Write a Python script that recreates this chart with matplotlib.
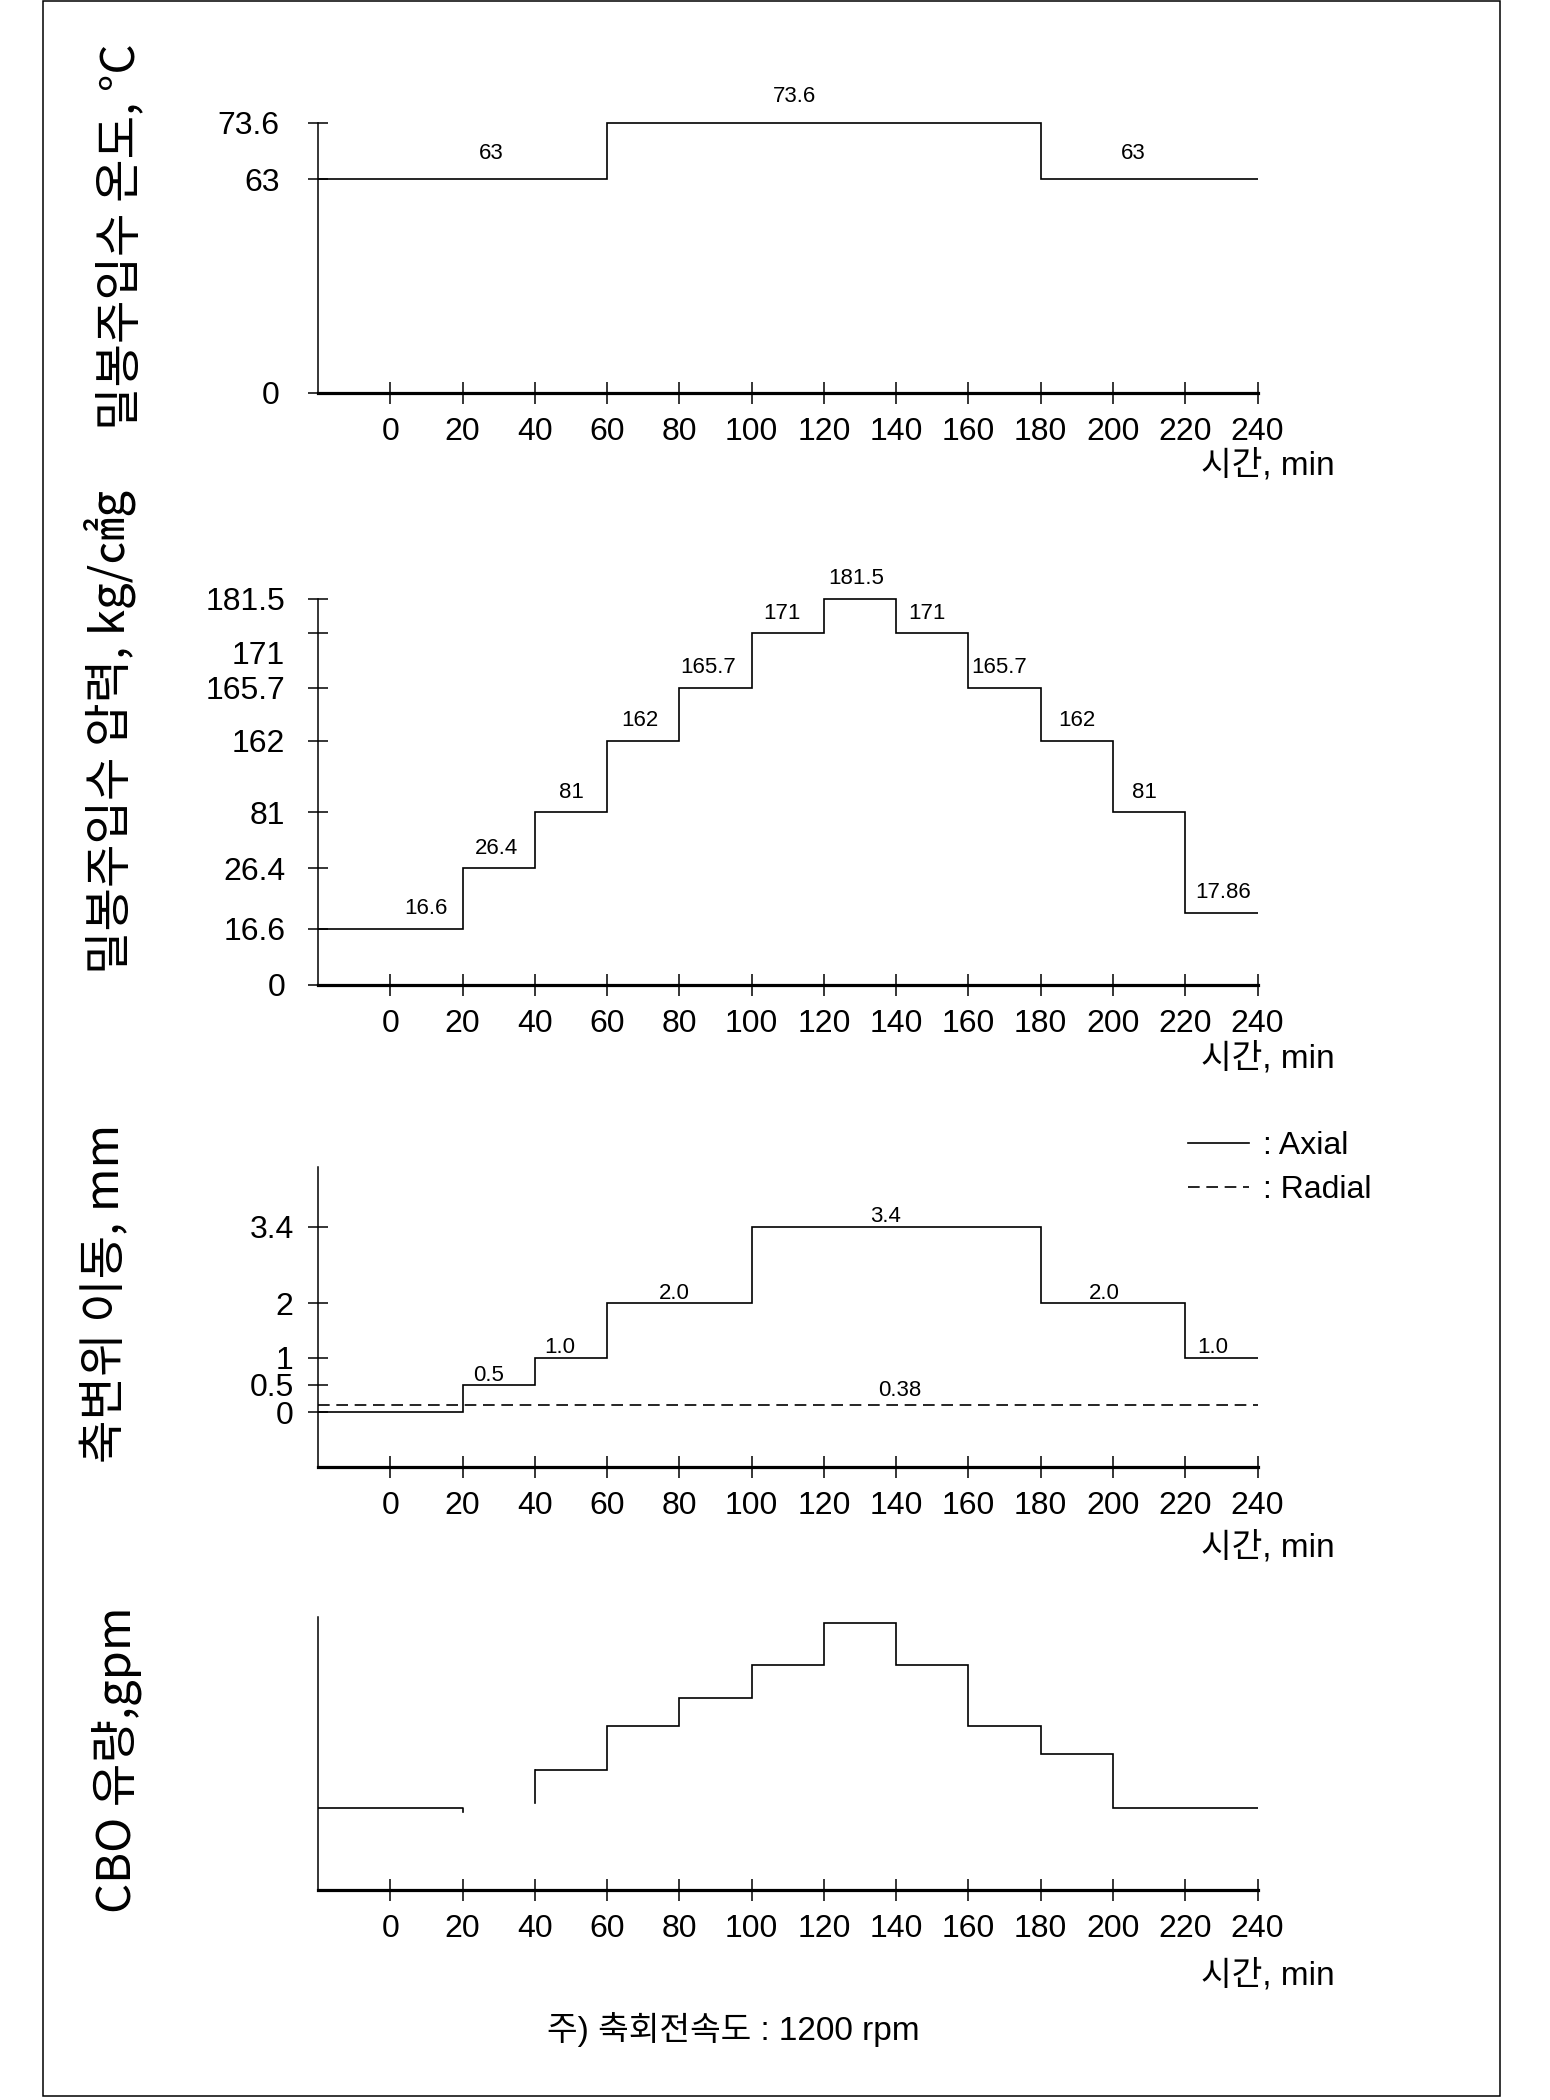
import matplotlib
matplotlib.use("Agg")
import matplotlib.pyplot as plt
import matplotlib.transforms as mtransforms
import numpy as np
from matplotlib.patches import Rectangle

plt.rcParams['font.family'] = ['Liberation Sans', 'Noto Sans CJK KR']
KR = ['Noto Sans CJK KR', 'DejaVu Sans']

# time axis, min
time_ticks = [0, 20, 40, 60, 80, 100, 120, 140, 160, 180, 200, 220, 240]
t_start = -20
t_end = 240

# panel 1 : seal injection water temperature
temp_edges = [-20, 60, 180, 240]
temp_levels = [63, 73.6, 63]
temp_yticks = [0, 63, 73.6]
temp_ylabels = ['0', '63', '73.6']
temp_note_x = [28, 112, 205.5]
temp_notes = ['63', '73.6', '63']

# panel 2 : seal injection water pressure
pres_edges = [-20, 20, 40, 60, 80, 100, 120, 140, 160, 180, 200, 220, 240]
pres_levels = [16.6, 26.4, 81, 162, 165.7, 171, 181.5, 171, 165.7, 162, 81, 17.86]
pres_yticks = [0, 16.6, 26.4, 81, 162, 165.7, 171, 181.5]
pres_ylabels = ['0', '16.6', '26.4', '81', '162', '165.7', '171', '181.5']
pres_note_x = [10, 29.5, 50, 69, 88, 108.5, 129, 148.6, 168.5, 190, 208.6, 230.4]
pres_notes = ['16.6', '26.4', '81', '162', '165.7', '171', '181.5', '171',
              '165.7', '162', '81', '17.86']

# panel 3 : shaft displacement
axial_edges = [-20, 20, 40, 60, 100, 180, 220, 240]
axial_levels = [0, 0.5, 1, 2, 3.4, 2, 1]
axial_note_x = [27.3, 47, 78.5, 137, 197.7, 227.7]
axial_notes = ['0.5', '1.0', '2.0', '3.4', '2.0', '1.0']
radial_t = [-20, 240]
radial_y = [0.14, 0.14]   # drawn just above zero in the original, labelled 0.38
radial_note_x = 141
radial_note = '0.38'
disp_yticks = [0, 0.5, 1, 2, 3.4]
disp_ylabels = ['0', '0.5', '1', '2', '3.4']

# panel 4 : CBO flow (no scale given)
cbo_t1 = [-20, 20, 20]
cbo_y1 = [3.0, 3.0, 2.85]
cbo_edges = [40, 60, 80, 100, 120, 140, 160, 180, 200, 240]
cbo_levels = [4.4, 6.0, 7.05, 8.25, 9.8, 8.25, 6.0, 5.0, 3.0]
cbo_start = 3.2


def piecewise(vals, pos):
    # schematic (non-linear) value axis of the original drawing
    return (lambda v: np.interp(v, vals, pos), lambda p: np.interp(p, pos, vals))


fig = plt.figure(figsize=(15.5, 21), dpi=100)
W, H = 1550, 2100
left_px, right_px = 318, 1257.5


def make_axes(top_px, bottom_px):
    return fig.add_axes([left_px / W, 1 - bottom_px / H,
                         (right_px - left_px) / W, (bottom_px - top_px) / H])


def style(ax, ypad):
    ax.spines['top'].set_visible(False)
    ax.spines['right'].set_visible(False)
    ax.spines['bottom'].set_linewidth(2.3)
    ax.spines['left'].set_linewidth(1.1)
    ax.set_xlim(t_start, t_end)
    ax.set_xticks(time_ticks)
    ax.tick_params(axis='x', direction='inout', length=16.5, width=1.1,
                   pad=9, labelsize=23)
    ax.tick_params(axis='y', direction='inout', length=15, width=1.1,
                   pad=ypad, labelsize=23)


def notes(ax, xs, ys, texts, off):
    for x, y, s in zip(xs, ys, texts):
        ax.annotate(s, (x, y), xytext=(0, off), textcoords='offset points',
                    ha='center', va='center', fontsize=16)


def xlab(ax, ya):
    ax.set_xlabel('시간, min', fontsize=24, ha='right', va='center')
    ax.xaxis.set_label_coords(1.0825, ya)


def ylab(ax, text, xa, ya):
    ax.set_ylabel(text, family=KR, fontsize=34, va='center')
    ax.yaxis.set_label_coords(xa, ya)


# panel 1
ax1 = make_axes(122.7, 392.7)
ax1.set_yscale('function', functions=piecewise([0, 63, 73.6], [0, 213.4, 270]))
ax1.stairs(temp_levels, temp_edges, baseline=None, color='black', lw=1.2, clip_on=False)
ax1.set_ylim(0, 73.6)
style(ax1, 20)
ax1.set_yticks(temp_yticks, temp_ylabels)
notes(ax1, temp_note_x, temp_levels, temp_notes, 18.7)
ylab(ax1, '밀봉주입수 온도, °C', -0.21, 0.577)
xlab(ax1, -0.267)

# panel 2
ax2 = make_axes(598.6, 985)
ax2.set_yscale('function', functions=piecewise(
    [0, 16.6, 17.86, 26.4, 81, 162, 165.7, 171, 181.5],
    [0, 56.2, 72, 116.7, 172.8, 244, 297.4, 351.6, 386.4]))
ax2.stairs(pres_levels, pres_edges, baseline=None, color='black', lw=1.2, clip_on=False)
ax2.set_ylim(0, 181.5)
style(ax2, 16)
ax2.set_yticks(pres_yticks, pres_ylabels)
shift = mtransforms.ScaledTranslation(0, -0.19, fig.dpi_scale_trans)
lab171 = ax2.yaxis.get_major_ticks()[pres_yticks.index(171)].label1
lab171.set_transform(lab171.get_transform() + shift)
notes(ax2, pres_note_x, pres_levels, pres_notes, 14.4)
ylab(ax2, '밀봉주입수 압력, kg/㎠g', -0.222, 0.655)
xlab(ax2, -0.19)

# panel 3
ax3 = make_axes(1166.7, 1466.7)
ax3.stairs(axial_levels, axial_edges, baseline=None, color='black', lw=1.2,
           clip_on=False, label=': Axial')
ax3.plot(radial_t, radial_y, color='black', lw=1.2, linestyle=(0, (7, 4)),
         label=': Radial')
ax3.set_ylim(-1, 4.5)
style(ax3, 10)
ax3.set_yticks(disp_yticks, disp_ylabels)
notes(ax3, axial_note_x, axial_levels[1:], axial_notes, 7)
notes(ax3, [radial_note_x], [radial_y[0]], [radial_note], 10)
ylab(ax3, '축변위 이동, mm', -0.226, 0.579)
xlab(ax3, -0.267)
fig.legend(loc='upper left', bbox_to_anchor=(1188 / W, 1 - 1131 / H),
           frameon=False, borderpad=0, borderaxespad=0, handlelength=1.9,
           handletextpad=0.45, labelspacing=0.45, fontsize=23)

# panel 4
ax4 = make_axes(1617.3, 1890)
ax4.plot(cbo_t1, cbo_y1, color='black', lw=1.2)
ax4.stairs(cbo_levels, cbo_edges, baseline=None, color='black', lw=1.2, clip_on=False)
ax4.plot([cbo_edges[0], cbo_edges[0]], [cbo_start, cbo_levels[0]], color='black', lw=1.2)
ax4.set_ylim(0, 10)
style(ax4, 10)
ax4.set_yticks([])
ylab(ax4, 'CBO 유량,gpm', -0.214, 0.477)
xlab(ax4, -0.312)

fig.text(733 / W, 1 - 2030 / H, '주) 축회전속도 : 1200 rpm', fontsize=24,
         ha='center', va='center')

fig.add_artist(Rectangle((43 / W, 4 / H), 1457 / W, 2095 / H, transform=fig.transFigure,
                         fill=False, edgecolor='black', lw=1.1))

fig.savefig('out.png', dpi=100, facecolor='white')
